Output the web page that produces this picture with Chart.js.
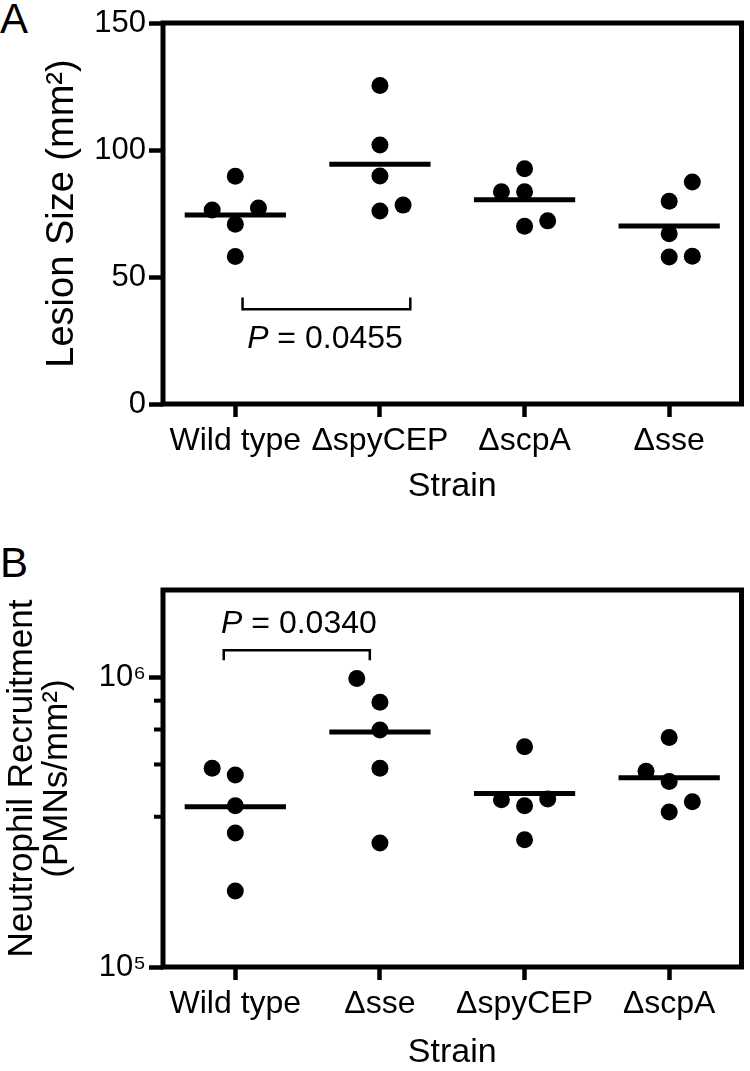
<!DOCTYPE html>
<html>
<head>
<meta charset="utf-8">
<script src="https://cdn.jsdelivr.net/npm/chart.js@4.4.0/dist/chart.umd.min.js"></script>
<style>
  body { margin: 0; background: #fff; }
  #wrap { position: relative; width: 750px; height: 1071px; overflow: hidden; }
  canvas { position: absolute; left: 0; }
  .panel { position: absolute; left: 0; font: 42px "Liberation Sans", Arial, sans-serif; line-height: 1; color: #000; }
</style>
</head>
<body>
<div id="wrap">
  <div class="panel" style="top:-2px">A</div>
  <div class="panel" style="top:542px">B</div>
  <canvas id="chartA" width="750" height="525" style="top:0px"></canvas>
  <canvas id="chartB" width="750" height="541" style="top:530px"></canvas>
</div>
<script>
// panel A - lesion size
var categoriesA = ["Wild type", "\u0394spyCEP", "\u0394scpA", "\u0394sse"];
var lesionWildType = [89.7, 76.4, 77.2, 70.8, 58.1];
var lesionSpyCEP = [125.4, 102, 89.8, 76, 78.3];
var lesionScpA = [92.6, 83.6, 83.6, 70, 72.1];
var lesionSse = [87.4, 79.8, 67, 57.9, 58.2];
var lesionMeans = [74.4, 94.4, 80.4, 70.1];
var jitterA = [[0, -0.16, 0.16, 0, 0], [0, 0, 0, 0, 0.16], [0, -0.16, 0, 0, 0.16], [0.16, 0, 0, 0, 0.16]];
var ticksA = [0, 50, 100, 150];

// panel B - neutrophil recruitment
var categoriesB = ["Wild type", "\u0394sse", "\u0394spyCEP", "\u0394scpA"];
var pmnWildType = [4.85e5, 4.6e5, 3.6e5, 2.9e5, 1.83e5];
var pmnSse = [9.9e5, 8.2e5, 6.58e5, 4.85e5, 2.68e5];
var pmnSpyCEP = [5.76e5, 3.78e5, 3.6e5, 3.8e5, 2.75e5];
var pmnScpA = [6.2e5, 4.74e5, 4.37e5, 3.72e5, 3.43e5];
var pmnMeans = [3.57e5, 6.47e5, 3.97e5, 4.5e5];
var jitterB = [[-0.16, 0, 0, 0, 0], [-0.16, 0, 0, 0, 0], [0, -0.16, 0, 0.16, 0], [0, -0.16, 0, 0.16, 0]];
var ticksB = [1e5, 1e6];
var tickLabelsB = ["10\u2075", "10\u2076"];
var minorTicksB = [8.3e5, 6.6e5, 5.0e5, 3.3e5];

var FONT = '"Liberation Sans", Arial, sans-serif';
Chart.defaults.font.family = FONT;
Chart.defaults.color = "#000";

function buildDatasets(groups, jitter, means) {
    var sets = [];
    groups.forEach(function (vals, i) {
        sets.push({
            type: "scatter",
            data: vals.map(function (v, j) { return { x: i + jitter[i][j], y: v }; }),
            backgroundColor: "#000",
            borderWidth: 0,
            pointRadius: 8.5,
            pointHoverRadius: 8.5,
        });
        sets.push({
            type: "line",
            data: [{ x: i - 0.35, y: means[i] }, { x: i + 0.35, y: means[i] }],
            borderColor: "#000",
            borderWidth: 5,
            borderCapStyle: "butt",
            pointRadius: 0,
        });
    });
    return sets;
}

// frame, minor ticks, significance bracket
var decor = {
    id: "decor",
    afterDatasetsDraw: function (chart, args, opts) {
        var ctx = chart.ctx, a = chart.chartArea;
        var xs = chart.scales.x, ys = chart.scales.y;
        ctx.save();
        ctx.strokeStyle = "#000";
        ctx.lineWidth = 5;
        ctx.strokeRect(a.left, a.top, a.right - a.left, a.bottom - a.top);

        ctx.lineWidth = 4;
        (opts.minor || []).forEach(function (v) {
            var py = ys.getPixelForValue(v);
            ctx.beginPath();
            ctx.moveTo(a.left - 9, py);
            ctx.lineTo(a.left, py);
            ctx.stroke();
        });

        var b = opts.bracket;
        var x1 = xs.getPixelForValue(b.from), x2 = xs.getPixelForValue(b.to);
        var y = ys.getPixelForValue(b.y), yt = ys.getPixelForValue(b.tip);
        ctx.lineWidth = 2.5;
        ctx.beginPath();
        ctx.moveTo(x1, yt);
        ctx.lineTo(x1, y);
        ctx.lineTo(x2, y);
        ctx.lineTo(x2, yt);
        ctx.stroke();

        var cx = xs.getPixelForValue(b.textX), cy = ys.getPixelForValue(b.textY);
        ctx.fillStyle = "#000";
        ctx.textBaseline = "middle";
        ctx.textAlign = "left";
        ctx.font = "italic 32px " + FONT;
        var wP = ctx.measureText("P").width;
        ctx.font = "32px " + FONT;
        var rest = " = " + b.label;
        var wR = ctx.measureText(rest).width;
        var sx = cx - (wP + wR) / 2;
        ctx.font = "italic 32px " + FONT;
        ctx.fillText("P", sx, cy);
        ctx.font = "32px " + FONT;
        ctx.fillText(rest, sx + wP, cy);
        ctx.restore();
    },
};

function makeChart(id, cats, datasets, yOpts, padTop, xHeight, xTitlePad, yTitle, yTitleSize, yTitlePad, decorOpts) {
    return new Chart(id, {
        type: "scatter",
        data: { datasets: datasets },
        options: {
            responsive: false,
            animation: false,
            events: [],
            layout: { padding: { top: padTop, right: 5, left: 0, bottom: 0 } },
            scales: {
                x: {
                    type: "linear",
                    min: -0.5,
                    max: 3.5,
                    afterBuildTicks: function (s) {
                        s.ticks = cats.map(function (c, i) { return { value: i }; });
                    },
                    afterFit: function (s) { s.height = xHeight; },
                    ticks: {
                        autoSkip: false,
                        maxRotation: 0,
                        padding: 5,
                        font: { size: 32 },
                        callback: function (v) { return cats[v]; },
                    },
                    grid: { drawOnChartArea: false, drawTicks: true, tickLength: 13, tickWidth: 4.5, tickColor: "#000" },
                    border: { display: false },
                    title: { display: true, text: "Strain", font: { size: 34, lineHeight: 1 }, padding: { top: 0, bottom: xTitlePad } },
                },
                y: Object.assign({
                    afterFit: function (s) { s.width = 163; },
                    grid: { drawOnChartArea: false, drawTicks: true, tickLength: 14, tickWidth: 4.5, tickColor: "#000" },
                    border: { display: false },
                    title: { display: true, text: yTitle, font: { size: yTitleSize, lineHeight: 1 }, padding: { top: yTitlePad, bottom: 0 } },
                }, yOpts),
            },
            plugins: {
                legend: { display: false },
                tooltip: { enabled: false },
                decor: decorOpts,
            },
        },
        plugins: [decor],
    });
}

makeChart(
    "chartA",
    categoriesA,
    buildDatasets([lesionWildType, lesionSpyCEP, lesionScpA, lesionSse], jitterA, lesionMeans),
    {
        type: "linear",
        min: 0,
        max: 150,
        afterBuildTicks: function (s) {
            s.ticks = ticksA.map(function (v) { return { value: v }; });
        },
        ticks: { padding: 3, font: { size: 31 } },
    },
    23, 121, 21,
    "Lesion Size (mm\u00B2)", 38, 44,
    { bracket: { from: 0.05, to: 1.21, y: 37.3, tip: 41.9, textX: 0.62, textY: 25.6, label: "0.0455" } }
);

makeChart(
    "chartB",
    categoriesB,
    buildDatasets([pmnWildType, pmnSse, pmnSpyCEP, pmnScpA], jitterB, pmnMeans),
    {
        type: "logarithmic",
        min: 1e5,
        max: 2e6,
        afterBuildTicks: function (s) {
            s.ticks = ticksB.map(function (v) { return { value: v }; });
        },
        ticks: {
            padding: 3,
            font: { size: 31 },
            callback: function (v) { return tickLabelsB[ticksB.indexOf(v)]; },
        },
    },
    60, 104, 1,
    ["Neutrophil Recruitment", "(PMNs/mm\u00B2)"], 35, 5,
    { minor: minorTicksB, bracket: { from: -0.08, to: 0.93, y: 1.24e6, tip: 1.145e6, textX: 0.44, textY: 1.52e6, label: "0.0340" } }
);
</script>
</body>
</html>
